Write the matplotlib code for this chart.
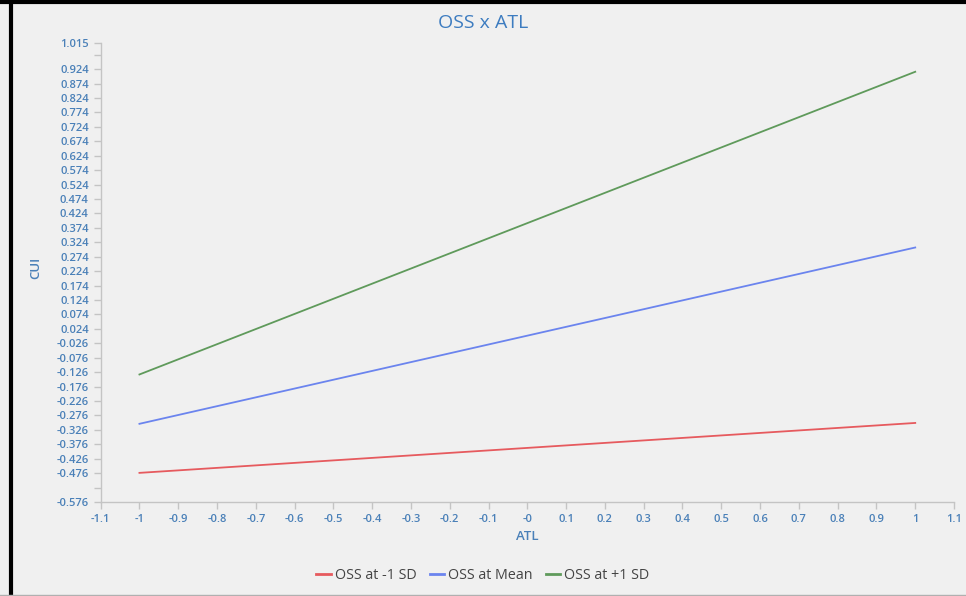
import numpy as np
import matplotlib
matplotlib.use("Agg")
import matplotlib.pyplot as plt
from matplotlib.lines import Line2D

# Simple slopes: CUI vs ATL at three levels of OSS
atl = [-1, 1]
cui_low = [-0.475, -0.302]    # OSS at -1 SD
cui_mean = [-0.305, 0.306]    # OSS at Mean
cui_high = [-0.134, 0.915]    # OSS at +1 SD

series_names = ['OSS at -1 SD', 'OSS at Mean', 'OSS at +1 SD']
series_colors = ['#e65a5e', '#6b84ee', '#5f9a5b']

x_ticks = [-1.1, -1, -0.9, -0.8, -0.7, -0.6, -0.5, -0.4, -0.3, -0.2, -0.1, 0,
           0.1, 0.2, 0.3, 0.4, 0.5, 0.6, 0.7, 0.8, 0.9, 1, 1.1]
x_labels = ['-1.1', '-1', '-0.9', '-0.8', '-0.7', '-0.6', '-0.5', '-0.4', '-0.3', '-0.2', '-0.1', '-0',
            '0.1', '0.2', '0.3', '0.4', '0.5', '0.6', '0.7', '0.8', '0.9', '1', '1.1']
y_ticks = [-0.576, -0.526, -0.476, -0.426, -0.376, -0.326, -0.276, -0.226, -0.176, -0.126,
           -0.076, -0.026, 0.024, 0.074, 0.124, 0.174, 0.224, 0.274, 0.324, 0.374, 0.424,
           0.474, 0.524, 0.574, 0.624, 0.674, 0.724, 0.774, 0.824, 0.874, 0.924, 0.974, 1.015]
y_labels = ['-0.576', '', '-0.476', '-0.426', '-0.376', '-0.326', '-0.276', '-0.226', '-0.176', '-0.126',
            '-0.076', '-0.026', '0.024', '0.074', '0.124', '0.174', '0.224', '0.274', '0.324', '0.374', '0.424',
            '0.474', '0.524', '0.574', '0.624', '0.674', '0.724', '0.774', '0.824', '0.874', '0.924', '', '1.015']

bg = '#f0f0f0'
txt = '#4a80b8'
axis_grey = '#c4c4c4'

plt.rcParams['font.family'] = ['Open Sans', 'DejaVu Sans']

fig = plt.figure(figsize=(9.66, 5.96), dpi=100, facecolor=bg)
ax = fig.add_axes([0.1042, 0.1577, 0.8834, 0.7703], facecolor=bg)

for ys, name, col in zip([cui_low, cui_mean, cui_high], series_names, series_colors):
    ax.plot(atl, ys, color=col, linewidth=1.3, label=name)

ax.set_xlim(-1.1, 1.1)
ax.set_ylim(-0.576, 1.015)
ax.set_xticks(x_ticks)
ax.set_xticklabels(x_labels, fontweight='semibold')
ax.set_yticks(y_ticks)
ax.set_yticklabels(y_labels, fontweight='semibold')
ax.tick_params(axis='both', colors=axis_grey, labelcolor=txt, labelsize=8, length=5, width=1)

for s in ['top', 'right']:
    ax.spines[s].set_visible(False)
for s in ['left', 'bottom']:
    ax.spines[s].set_color(axis_grey)
    ax.spines[s].set_linewidth(1)

ax.set_xlabel('ATL', color=txt, fontsize=9.5, fontweight='semibold', labelpad=4)
ax.set_ylabel('CUI', color=txt, fontsize=9.5, fontweight='semibold')
ax.yaxis.set_label_coords(-0.068, 0.51)
fig.text(0.5, 0.962, 'OSS x ATL', color='#3d7cc0', fontsize=14, ha='center', va='center')

handles = [Line2D([0], [0], color=c, linewidth=2) for c in series_colors]
fig.legend(handles, series_names, loc='center', bbox_to_anchor=(0.5, 0.034), ncol=3,
           frameon=False, fontsize=10.3, labelcolor='#444444', handlelength=1.0,
           handletextpad=0.3, columnspacing=0.9)

# frame edges as in the screenshot
fig.add_artist(Line2D([0, 1], [0.9966, 0.9966], color='black', linewidth=3, transform=fig.transFigure))
fig.add_artist(Line2D([0.0114, 0.0114], [0, 1], color='black', linewidth=3, transform=fig.transFigure))
fig.add_artist(Line2D([0, 1], [0.002, 0.002], color='#b0b0b0', linewidth=1, transform=fig.transFigure))

fig.savefig('out.png', dpi=100, facecolor=bg)
